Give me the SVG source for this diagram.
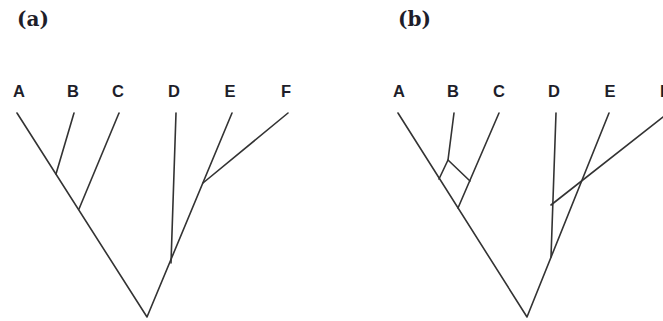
<svg xmlns="http://www.w3.org/2000/svg" width="663" height="321" viewBox="0 0 663 321">
<style>
.t{font-family:"Liberation Sans",Arial,sans-serif;font-weight:bold;font-size:16.5px;fill:#1e1e2a;text-anchor:middle}
.p{font-family:"DejaVu Serif","Liberation Serif",serif;font-weight:bold;font-size:20px;fill:#1e1e2a}
.e{stroke:#333;stroke-width:1.6;fill:none;stroke-linecap:round;stroke-linejoin:round}
</style>
<rect width="663" height="321" fill="#fff"/>
<text class="p" x="17" y="26">(a)</text>
<text class="p" x="398" y="26">(b)</text>
<g id="a-leaves">
<g id="aA"><text class="t" x="19" y="97">A</text></g>
<g id="aB"><text class="t" x="73" y="97">B</text></g>
<g id="aC"><text class="t" x="118" y="97">C</text></g>
<g id="aD"><text class="t" x="174" y="97">D</text></g>
<g id="aE"><text class="t" x="230" y="97">E</text></g>
<g id="aF"><text class="t" x="286" y="97">F</text></g>
</g>
<g id="b-leaves">
<g id="bA"><text class="t" x="399" y="97">A</text></g>
<g id="bB"><text class="t" x="453" y="97">B</text></g>
<g id="bC"><text class="t" x="499" y="97">C</text></g>
<g id="bD"><text class="t" x="554" y="97">D</text></g>
<g id="bE"><text class="t" x="610" y="97">E</text></g>
<g id="bF"><text class="t" x="665" y="97">F</text></g>
</g>
<g id="connectors" class="e">
<path d="M17 113 L147 317 L232 113"/>
<path d="M74 113 L56 174"/>
<path d="M119 113 L79 209"/>
<path d="M176 113 L171 263"/>
<path d="M288 113 L203 183"/>
<path d="M398 113 L527 317 L609 113"/>
<path d="M454 113 L448 160 L439 179"/>
<path d="M448 160 L470 181"/>
<path d="M499 113 L458 208"/>
<path d="M556 113 L551 257"/>
<path d="M668 113 L551 205"/>
</g>
</svg>
